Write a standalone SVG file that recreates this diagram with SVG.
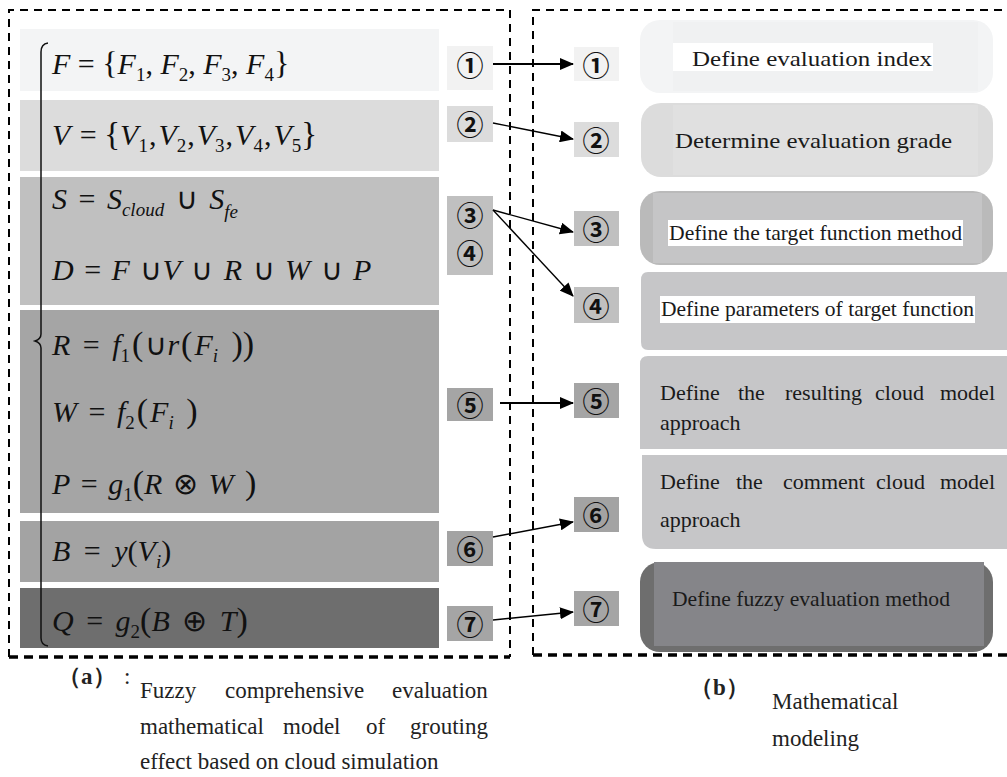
<svg xmlns="http://www.w3.org/2000/svg" width="1007" height="777" viewBox="0 0 1007 777">
  <style>
    .m { font-family: "Liberation Serif", Tinos, "Noto Serif", serif; font-size: 30px; fill: #111; }
    .i { font-style: italic; }
    .sub { font-size: 19px; }
    .num { font-family: "Noto Sans CJK JP", "DejaVu Sans", sans-serif; font-size: 27px; font-weight: 700; fill: #111; text-anchor: middle; dominant-baseline: central; }
    .lbl { font-family: "Liberation Serif", Tinos, "Noto Serif", serif; font-size: 22px; fill: #1a1a1a; }
    .cap { font-family: "Liberation Serif", Tinos, "Noto Serif", serif; font-size: 23px; fill: #222; }
    .frame { fill: none; stroke: #000; stroke-width: 2; stroke-dasharray: 8 6; }
    .frameb { fill: none; stroke: #000; stroke-width: 3.5; stroke-dasharray: 9 6; }
    .link { fill: none; stroke: #000; stroke-width: 1.4; }
    .thick { stroke-width: 2.2; }
  </style>
  <defs>
    <marker id="arr" markerUnits="userSpaceOnUse" markerWidth="14" markerHeight="12" refX="13" refY="6" orient="auto">
      <path d="M0,0 L14,6 L0,12 Z" fill="#000"/>
    </marker>
  </defs>
  <rect width="1007" height="777" fill="#fff"/>

  <!-- dashed frames -->
  <g id="frames">
    <path class="frame" d="M9,657 L9,10 L510,10 L510,657"/>
    <path class="frameb" d="M9,657 L510,657"/>
    <path class="frame" d="M533,655 L533,10 L1007,10"/>
    <path class="frameb" d="M533,655 L1007,655"/>
  </g>

  <!-- (a) formula strips -->
  <g id="strip-F">
    <rect x="20" y="29" width="419" height="62" fill="#f3f4f5"/>
    <text class="m" x="52" y="74" font-size="29"><tspan class="i">F</tspan> = <tspan font-size="32">{</tspan><tspan class="i">F</tspan><tspan class="sub" dy="7">1</tspan><tspan dy="-7">, </tspan><tspan class="i">F</tspan><tspan class="sub" dy="7">2</tspan><tspan dy="-7">, </tspan><tspan class="i">F</tspan><tspan class="sub" dy="7">3</tspan><tspan dy="-7">, </tspan><tspan class="i">F</tspan><tspan class="sub" dy="7">4</tspan><tspan dy="-7" font-size="32">}</tspan></text>
  </g>
  <g id="strip-V">
    <rect x="20" y="100" width="419" height="71" fill="#dcdcdc"/>
    <text class="m" x="52" y="145"><tspan class="i">V</tspan> <tspan dx="2">=</tspan> <tspan font-size="33">{</tspan><tspan class="i">V</tspan><tspan class="sub" dy="7">1</tspan><tspan dy="-7" dx="1">,</tspan><tspan class="i" dx="2">V</tspan><tspan class="sub" dy="7">2</tspan><tspan dy="-7" dx="1">,</tspan><tspan class="i" dx="2">V</tspan><tspan class="sub" dy="7">3</tspan><tspan dy="-7" dx="1">,</tspan><tspan class="i" dx="2">V</tspan><tspan class="sub" dy="7">4</tspan><tspan dy="-7" dx="1">,</tspan><tspan class="i" dx="2">V</tspan><tspan class="sub" dy="7">5</tspan><tspan dy="-7" font-size="33">}</tspan></text>
  </g>
  <g id="strip-SD">
    <rect x="20" y="177" width="419" height="128" fill="#c0c0c0"/>
    <text class="m" x="52" y="209" word-spacing="4"><tspan class="i">S</tspan> = <tspan class="i">S</tspan><tspan class="sub i" dy="7">cloud</tspan><tspan dy="-7"> ∪ </tspan><tspan class="i">S</tspan><tspan class="sub i" dy="9">fe</tspan></text>
    <text class="m" x="52" y="280" word-spacing="3"><tspan class="i">D</tspan> = <tspan class="i">F</tspan> ∪<tspan class="i">V</tspan> ∪ <tspan class="i">R</tspan> ∪ <tspan class="i">W</tspan> ∪ <tspan class="i">P</tspan></text>
  </g>
  <g id="strip-RWP">
    <rect x="20" y="310" width="419" height="203" fill="#a5a5a5"/>
    <text class="m" x="52" y="355" word-spacing="5"><tspan class="i">R</tspan> = <tspan class="i">f</tspan><tspan class="sub" dy="7">1</tspan><tspan dy="-7" font-size="34" dx="2">(</tspan><tspan dx="2">∪</tspan><tspan class="i">r</tspan><tspan font-size="34" dx="2">(</tspan><tspan class="i" dx="2">F</tspan><tspan class="sub i" dy="7">i</tspan><tspan dy="-7" font-size="34"> ))</tspan></text>
    <text class="m" x="52" y="422" word-spacing="4"><tspan class="i">W</tspan> = <tspan class="i">f</tspan><tspan class="sub" dy="7">2</tspan><tspan dy="-7" font-size="34" dx="2">(</tspan><tspan class="i" dx="2">F</tspan><tspan class="sub i" dy="7">i</tspan><tspan dy="-7" font-size="34"> )</tspan></text>
    <text class="m" x="52" y="494" word-spacing="3"><tspan class="i">P</tspan> = <tspan class="i">g</tspan><tspan class="sub" dy="7">1</tspan><tspan dy="-7" font-size="34">(</tspan><tspan class="i">R</tspan> ⊗ <tspan class="i">W</tspan><tspan font-size="34"> )</tspan></text>
  </g>
  <g id="strip-B">
    <rect x="20" y="521" width="419" height="61" fill="#a3a3a3"/>
    <text class="m" x="52" y="561" word-spacing="6"><tspan class="i">B</tspan> = <tspan class="i">y</tspan>(<tspan class="i">V</tspan><tspan class="sub i" dy="7">i</tspan><tspan dy="-7">)</tspan></text>
  </g>
  <g id="strip-Q">
    <rect x="20" y="588" width="419" height="60" fill="#6e6e6e"/>
    <text class="m" x="52" y="631" word-spacing="5"><tspan class="i">Q</tspan> = <tspan class="i">g</tspan><tspan class="sub" dy="7">2</tspan><tspan dy="-7" font-size="34">(</tspan><tspan class="i">B</tspan> ⊕ <tspan class="i">T</tspan><tspan font-size="34">)</tspan></text>
  </g>

  <!-- grouping brace -->
  <g id="brace">
    <path d="M48,43 Q41,44 41,52 L41,334 Q41,339 35,341 Q41,343 41,348 L41,638 Q41,645 48,646" fill="none" stroke="#111" stroke-width="1.5"/>
  </g>

  <!-- step numbers, left column -->
  <g id="num-a1"><rect x="447" y="46" width="46" height="44" fill="#f2f2f2"/><text class="num" x="470" y="64">①</text></g>
  <g id="num-a2"><rect x="447" y="106" width="46" height="36" fill="#dcdcdc"/><text class="num" x="470" y="123">②</text></g>
  <g id="num-a34"><rect x="447" y="196" width="46" height="79" fill="#c0c0c0"/><text class="num" x="470" y="214">③</text><text class="num" x="470" y="252">④</text></g>
  <g id="num-a5"><rect x="447" y="388" width="46" height="33" fill="#a5a5a5"/><text class="num" x="470" y="404">⑤</text></g>
  <g id="num-a6"><rect x="447" y="531" width="46" height="35" fill="#a3a3a3"/><text class="num" x="470" y="548">⑥</text></g>
  <g id="num-a7"><rect x="447" y="606" width="46" height="35" fill="#a5a5a5"/><text class="num" x="470" y="623">⑦</text></g>

  <!-- step numbers, right column -->
  <g id="num-b1"><rect x="574" y="47" width="45" height="34" fill="#f2f2f2"/><text class="num" x="596" y="64">①</text></g>
  <g id="num-b2"><rect x="574" y="122" width="45" height="35" fill="#dcdcdc"/><text class="num" x="596" y="139">②</text></g>
  <g id="num-b3"><rect x="574" y="211" width="45" height="35" fill="#c0c0c0"/><text class="num" x="596" y="228">③</text></g>
  <g id="num-b4"><rect x="574" y="287" width="45" height="36" fill="#c0c0c0"/><text class="num" x="596" y="305">④</text></g>
  <g id="num-b5"><rect x="574" y="383" width="45" height="35" fill="#a5a5a5"/><text class="num" x="596" y="400">⑤</text></g>
  <g id="num-b6"><rect x="574" y="497" width="45" height="35" fill="#a3a3a3"/><text class="num" x="596" y="514">⑥</text></g>
  <g id="num-b7"><rect x="574" y="591" width="45" height="35" fill="#a5a5a5"/><text class="num" x="596" y="608">⑦</text></g>

  <!-- connectors -->
  <g id="connectors">
    <line class="link thick" x1="493" y1="64" x2="573" y2="64" marker-end="url(#arr)"/>
    <line class="link" x1="493" y1="123" x2="573" y2="139" marker-end="url(#arr)"/>
    <line class="link" x1="493" y1="210" x2="573" y2="232" marker-end="url(#arr)"/>
    <line class="link" x1="493" y1="210" x2="573" y2="296" marker-end="url(#arr)"/>
    <line class="link thick" x1="500" y1="403" x2="573" y2="403" marker-end="url(#arr)"/>
    <line class="link" x1="493" y1="537" x2="573" y2="522" marker-end="url(#arr)"/>
    <line class="link" x1="493" y1="620" x2="573" y2="612" marker-end="url(#arr)"/>
  </g>

  <!-- (b) modelling steps -->
  <g id="step1">
    <rect x="640" y="20" width="353" height="73" rx="20" fill="#f3f4f5"/>
    <rect x="673" y="22" width="305" height="69" fill="#f0f1f2"/>
    <rect x="673" y="43" width="260" height="28" fill="#fff"/>
    <text class="lbl" x="692" y="66" textLength="240" lengthAdjust="spacingAndGlyphs">Define evaluation index</text>
  </g>
  <g id="step2">
    <rect x="641" y="103" width="352" height="74" rx="20" fill="#dcdcdc"/>
    <rect x="673" y="105" width="305" height="70" fill="#e0e0e0"/>
    <text class="lbl" x="675" y="148" textLength="277" lengthAdjust="spacingAndGlyphs">Determine evaluation grade</text>
  </g>
  <g id="step3">
    <rect x="640" y="191" width="353" height="74" rx="20" fill="#bababa"/>
    <rect x="653" y="193" width="329" height="70" fill="#c5c5c6"/>
    <rect x="668" y="220" width="295" height="26" fill="#fff"/>
    <text class="lbl" x="669" y="240" font-size="19" textLength="293" lengthAdjust="spacingAndGlyphs">Define the target function method</text>
  </g>
  <g id="step4">
    <path d="M648,272 L1007,272 L1007,350 L648,350 Q641,350 641,342 L641,280 Q641,272 648,272 Z" fill="#c6c6c8"/>
    <rect x="660" y="296" width="315" height="27" fill="#fff"/>
    <text class="lbl" x="661" y="316" font-size="19" textLength="313" lengthAdjust="spacingAndGlyphs">Define parameters of target function</text>
  </g>
  <g id="step5">
    <path d="M648,356 L1007,356 L1007,449 L640,449 L640,364 Q640,356 648,356 Z" fill="#c6c6c8"/>
    <text class="lbl" y="400" font-size="19"><tspan x="660">Define</tspan><tspan x="738">the</tspan><tspan x="785">resulting</tspan><tspan x="875">cloud</tspan><tspan x="940">model</tspan></text>
    <text class="lbl" x="660" y="430" font-size="19">approach</text>
  </g>
  <g id="step6">
    <path d="M642,455 L1007,455 L1007,549 L656,549 Q642,549 642,535 Z" fill="#c6c6c8"/>
    <text class="lbl" y="489" font-size="19"><tspan x="660">Define</tspan><tspan x="736">the</tspan><tspan x="783">comment</tspan><tspan x="876">cloud</tspan><tspan x="940">model</tspan></text>
    <text class="lbl" x="660" y="527" font-size="19">approach</text>
  </g>
  <g id="step7">
    <rect x="640" y="562" width="353" height="90" rx="20" fill="#6e6e6e"/>
    <rect x="654" y="562" width="330" height="84" fill="#858589"/>
    <text class="lbl" x="672" y="606" font-size="20" fill="#1e1e1e" textLength="278" lengthAdjust="spacingAndGlyphs">Define fuzzy evaluation method</text>
  </g>

  <!-- captions -->
  <g id="caption-a">
    <text class="cap" x="58" y="684" font-weight="bold">（a）</text>
    <text class="cap" x="124" y="684" font-size="12" fill="#999">:</text>
    <text class="cap" y="698"><tspan x="140">Fuzzy</tspan><tspan x="225">comprehensive</tspan><tspan x="392">evaluation</tspan></text>
    <text class="cap" y="734"><tspan x="140">mathematical</tspan><tspan x="283">model</tspan><tspan x="366">of</tspan><tspan x="410">grouting</tspan></text>
    <text class="cap" x="140" y="769">effect based on cloud simulation</text>
  </g>
  <g id="caption-b">
    <text class="cap" x="690" y="695" font-weight="bold">（b）</text>
    <text class="cap" x="772" y="709" font-size="25">Mathematical</text>
    <text class="cap" x="772" y="746" font-size="25">modeling</text>
  </g>
</svg>
